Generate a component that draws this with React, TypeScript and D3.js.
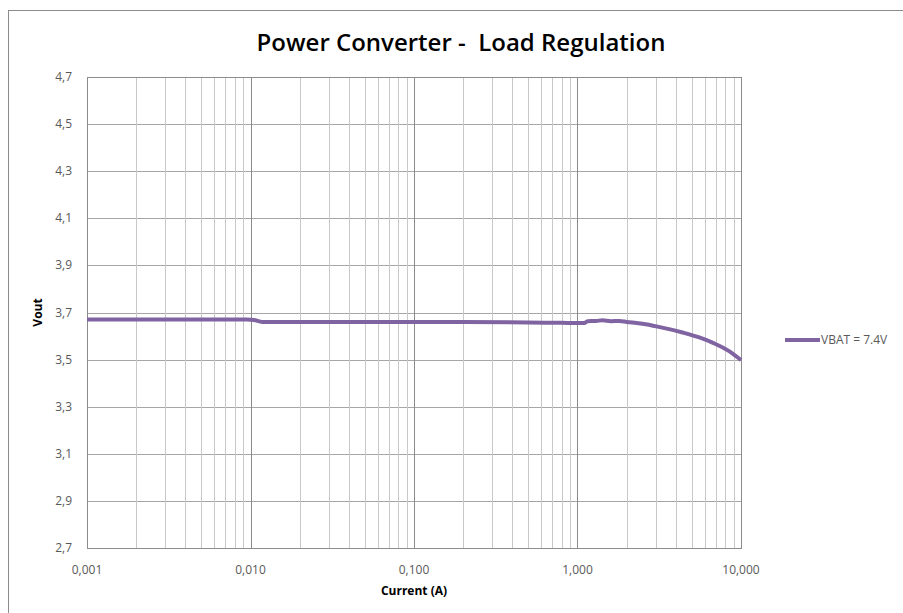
import React from 'react'
import * as d3 from 'd3'

// current (A) and measured Vout
const currents = [0.001, 0.002, 0.005, 0.0095, 0.0105, 0.0118, 0.02, 0.05, 0.1, 0.2, 0.5, 0.8, 1.1, 1.15, 1.3, 1.42, 1.6, 1.8, 2.0, 2.5, 3.09, 4.45, 5.5, 6.8, 8.5, 10]
const vout = [3.67, 3.67, 3.67, 3.67, 3.668, 3.66, 3.66, 3.66, 3.66, 3.66, 3.658, 3.656, 3.655, 3.663, 3.664, 3.667, 3.663, 3.664, 3.66, 3.652, 3.64, 3.614, 3.595, 3.57, 3.535, 3.498]
const yTicks = [2.7, 2.9, 3.1, 3.3, 3.5, 3.7, 3.9, 4.1, 4.3, 4.5, 4.7]
const xTicks = [0.001, 0.01, 0.1, 1, 10]
const xTickLabels = ['0,001', '0,010', '0,100', '1,000', '10,000']
const seriesName = 'VBAT = 7.4V'

const W = 903
const H = 613
const left = 87
const top = 77
const right = 741
const bottom = 548

const App = () => {
  const x = d3.scaleLog().domain([0.001, 10]).range([left, right])
  const y = d3.scaleLinear().domain([2.7, 4.7]).range([bottom, top])

  const minor: number[] = []
  for (let dec = 0.001; dec < 10; dec *= 10) {
    for (let k = 2; k <= 9; k++) minor.push(dec * k)
  }

  const line = d3
    .line<number>()
    .x((_, i) => x(currents[i]))
    .y((d) => y(d))
    .curve(d3.curveMonotoneX)

  const font = 'Open Sans, sans-serif'

  return (
    <svg width={W} height={H} style={{ position: 'absolute', left: 0, top: 0 }}>
      <rect x={0} y={0} width={W} height={H} fill="white" />
      <line x1={8} y1={10.5} x2={W} y2={10.5} stroke="#8c8c8c" />
      <line x1={8.5} y1={10} x2={8.5} y2={H} stroke="#8c8c8c" />

      <text x={461} y={51} textAnchor="middle" fontFamily={font} fontSize={24} fontWeight={600} fill="#000" style={{ whiteSpace: 'pre' }}>
        {'Power Converter -  Load Regulation'}
      </text>

      {/* horizontal grid */}
      {yTicks.map((t) => (
        <line key={'h' + t} x1={left} x2={right} y1={Math.round(y(t)) + 0.5} y2={Math.round(y(t)) + 0.5} stroke="#a6a6a6" />
      ))}
      {/* minor vertical grid */}
      {minor.map((m, i) => (
        <line key={'m' + i} x1={Math.round(x(m)) + 0.5} x2={Math.round(x(m)) + 0.5} y1={top} y2={bottom} stroke="#c8c8c8" />
      ))}
      {/* decade lines */}
      {xTicks.map((t) => (
        <line key={'v' + t} x1={Math.round(x(t)) + 0.5} x2={Math.round(x(t)) + 0.5} y1={top} y2={bottom} stroke="#8c8c8c" />
      ))}
      <rect x={left + 0.5} y={top + 0.5} width={right - left} height={bottom - top} fill="none" stroke="#8c8c8c" />

      {yTicks.map((t) => (
        <text key={'yl' + t} x={72} y={y(t) + 4} textAnchor="end" fontFamily={font} fontSize={12} fill="#595959">
          {t.toFixed(1).replace('.', ',')}
        </text>
      ))}
      {xTicks.map((t, i) => (
        <text key={'xl' + t} x={x(t)} y={574} textAnchor="middle" fontFamily={font} fontSize={12} fill="#595959">
          {xTickLabels[i]}
        </text>
      ))}

      <text x={414} y={595} textAnchor="middle" fontFamily={font} fontSize={12} fontWeight="bold" fill="#000">
        Current (A)
      </text>
      <text transform={`translate(42, ${y(3.7)}) rotate(-90)`} textAnchor="middle" fontFamily={font} fontSize={12} fontWeight="bold" fill="#000">
        Vout
      </text>

      <path d={line(vout) || ''} fill="none" stroke="#8064a2" strokeWidth={4} strokeLinejoin="round" />

      <line x1={785} x2={820} y1={340} y2={340} stroke="#8064a2" strokeWidth={4} />
      <text x={821} y={344} fontFamily={font} fontSize={12} fill="#595959">
        {seriesName}
      </text>
    </svg>
  )
}

export default App
